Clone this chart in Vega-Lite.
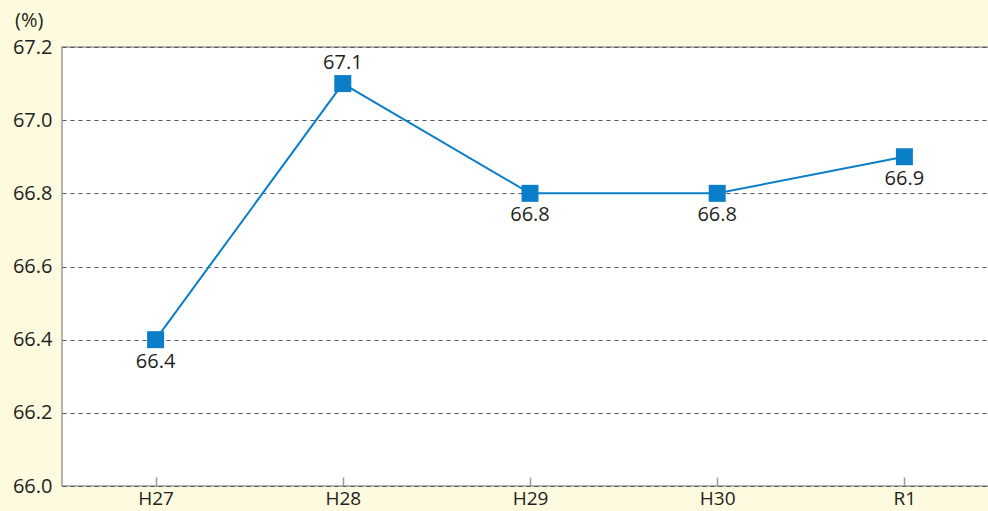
{
  "$schema": "https://vega.github.io/schema/vega-lite/v6.json",
  "width": 936,
  "height": 439,
  "autosize": {"type": "none"},
  "padding": {"left": 62, "top": 47, "right": 0, "bottom": 25},
  "background": "#fefadf",
  "config": {
    "view": {"fill": "white", "stroke": "#9a9a9a", "strokeWidth": 1.5},
    "font": "Open Sans"
  },
  "title": {
    "text": "(%)",
    "anchor": "start",
    "frame": "group",
    "orient": "top",
    "dx": -47,
    "offset": 6,
    "fontSize": 20,
    "fontWeight": "normal",
    "color": "#231f20",
    "font": "Open Sans"
  },
  "data": {
    "values": [
      {"year": "H27", "rate": 66.4, "pos": "below"},
      {"year": "H28", "rate": 67.1, "pos": "above"},
      {"year": "H29", "rate": 66.8, "pos": "below"},
      {"year": "H30", "rate": 66.8, "pos": "below"},
      {"year": "R1", "rate": 66.9, "pos": "below"}
    ]
  },
  "encoding": {
    "x": {
      "field": "year",
      "type": "ordinal",
      "sort": null,
      "scale": {"type": "point", "padding": 0.5},
      "axis": {
        "title": null,
        "labelAngle": 0,
        "labelFontSize": 19,
        "labelColor": "#231f20",
        "labelFont": "Open Sans",
        "domain": false,
        "grid": false,
        "tickSize": -9,
        "tickColor": "#9a9a9a",
        "tickWidth": 1.5,
        "labelPadding": 12
      }
    },
    "y": {
      "field": "rate",
      "type": "quantitative",
      "scale": {"domain": [66.0, 67.2], "nice": false, "zero": false},
      "axis": {
        "title": null,
        "values": [66.0, 66.2, 66.4, 66.6, 66.8, 67.0, 67.2],
        "format": ".1f",
        "labelFontSize": 20,
        "labelColor": "#231f20",
        "labelFont": "Open Sans",
        "labelPadding": 10,
        "ticks": false,
        "domain": false,
        "grid": true,
        "gridColor": "#555555",
        "gridDash": [4, 4],
        "gridWidth": 1
      }
    }
  },
  "layer": [
    {
      "mark": {"type": "line", "color": "#0a7ec8", "strokeWidth": 2}
    },
    {
      "mark": {"type": "point", "shape": "square", "filled": true, "size": 289, "color": "#0a7ec8", "opacity": 1}
    },
    {
      "transform": [{"filter": "datum.pos === 'below'"}],
      "mark": {"type": "text", "dy": 22, "fontSize": 20, "color": "#231f20", "font": "Open Sans"},
      "encoding": {"text": {"field": "rate", "type": "quantitative", "format": ".1f"}}
    },
    {
      "transform": [{"filter": "datum.pos === 'above'"}],
      "mark": {"type": "text", "dy": -21, "fontSize": 20, "color": "#231f20", "font": "Open Sans"},
      "encoding": {"text": {"field": "rate", "type": "quantitative", "format": ".1f"}}
    }
  ]
}
